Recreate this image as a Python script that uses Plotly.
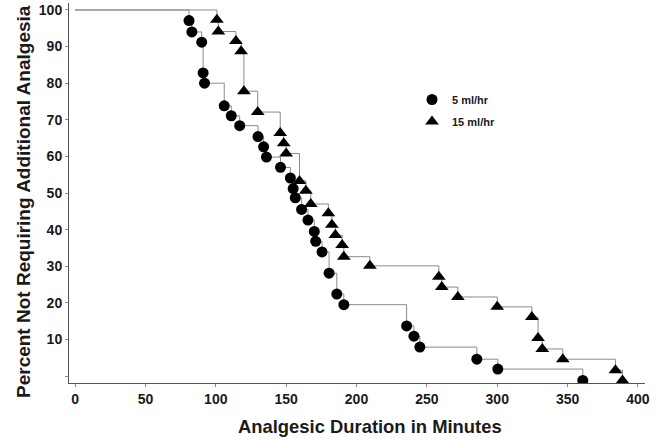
import plotly.graph_objects as go

# 5 ml/hr group (circles): time in minutes, percent not requiring additional analgesia
t5 = [81, 83, 90, 91, 92, 106, 111, 117, 130, 134, 136, 146, 153, 155, 156.5, 161,
      165.5, 170, 171, 175.5, 180.5, 186, 191, 235.6, 240.8, 245, 285.5, 300.4, 360.8]
p5 = [97.1, 94.0, 91.2, 82.8, 80.0, 73.8, 71.1, 68.4, 65.4, 62.6, 59.8, 57.0, 54.1, 51.2,
      48.7, 45.5, 42.6, 39.5, 36.8, 33.9, 28.1, 22.4, 19.5, 13.7, 10.9, 7.9, 4.6, 1.9, -1.2]

# 15 ml/hr group (triangles)
t15 = [100.8, 101.8, 114.3, 118, 120, 129.8, 145.8, 148.3, 150, 159.5, 164, 167.5,
       180, 182.5, 185, 189.8, 191, 209.5, 258.5, 260.6, 272, 300, 324.6, 329, 332,
       346.6, 384, 389]
p15 = [97.3, 94.1, 91.5, 88.7, 77.8, 72.1, 66.4, 63.6, 60.8, 53.3, 50.6, 47.0,
       44.5, 41.3, 38.5, 35.8, 32.6, 30.1, 27.1, 24.3, 21.6, 18.9, 16.1, 10.4, 7.4,
       4.6, 1.6, -1.2]

start_time = 0
start_pct = 100

x_ticks = [0, 50, 100, 150, 200, 250, 300, 350, 400]
y_ticks = [0, 10, 20, 30, 40, 50, 60, 70, 80, 90, 100]
y_ticktext = ["" if v == 0 else str(v) for v in y_ticks]

x_title = "Analgesic Duration in Minutes"
y_title = "Percent Not Requiring Additional Analgesia"

FONT = "Liberation Sans, Arial, Helvetica, sans-serif"
LINE_COLOR = "#8a8a8a"
TEXT_COLOR = "#1a1a1a"

W, H = 672, 439
ML, MR, MT, MB = 69, 27, 3, 56

fig = go.Figure()

# step lines
fig.add_trace(go.Scatter(x=[start_time] + t5, y=[start_pct] + p5, mode="lines",
                         line=dict(shape="hv", color=LINE_COLOR, width=1),
                         showlegend=False, hoverinfo="skip"))
fig.add_trace(go.Scatter(x=[start_time] + t15, y=[start_pct] + p15, mode="lines",
                         line=dict(shape="hv", color=LINE_COLOR, width=1),
                         showlegend=False, hoverinfo="skip"))

# markers
fig.add_trace(go.Scatter(x=t5, y=p5, mode="markers", name="5 ml/hr", legendgroup="g5",
                         marker=dict(symbol="circle", size=11, color="black")))
fig.add_trace(go.Scatter(x=t15, y=p15, mode="markers", name="15 ml/hr", legendgroup="g15",
                         marker=dict(symbol="triangle-up", size=12, color="black")))

pw = W - ML - MR
ph = H - MT - MB

fig.update_layout(
    width=W, height=H,
    margin=dict(l=ML, r=MR, t=MT, b=MB),
    paper_bgcolor="white", plot_bgcolor="white",
    font=dict(family=FONT, color=TEXT_COLOR, size=14),
    legend=dict(x=(412 - ML) / pw, y=1 - (85 - MT) / ph, xanchor="left", yanchor="top",
                font=dict(size=11, weight="bold", family=FONT),
                bgcolor="rgba(0,0,0,0)", itemwidth=30, tracegroupgap=3),
    annotations=[
        dict(text=x_title, xref="paper", yref="paper",
             x=(370 - ML) / pw, y=-(427 - (H - MB)) / ph, xanchor="center", yanchor="middle",
             showarrow=False, font=dict(size=18.4, weight="bold", family=FONT, color=TEXT_COLOR)),
        dict(text=y_title, xref="paper", yref="paper", textangle=-90,
             x=-(ML - 23) / pw, y=1 - (202 - MT) / ph, xanchor="center", yanchor="middle",
             showarrow=False, font=dict(size=19, weight="bold", family=FONT, color=TEXT_COLOR)),
    ],
)

fig.update_xaxes(range=[-4.3, 405], tickvals=x_ticks, showgrid=False, zeroline=False,
                 showline=True, linecolor="#555", linewidth=1, automargin=False,
                 ticks="outside", ticklen=3, tickcolor="#888",
                 tickfont=dict(size=14, weight="bold", family=FONT))
fig.update_yaxes(range=[-1.9, 101.9], tickvals=y_ticks, ticktext=y_ticktext,
                 showgrid=False, zeroline=False, automargin=False,
                 showline=True, linecolor="#555", linewidth=1,
                 ticks="outside", ticklen=3, tickcolor="#888",
                 tickfont=dict(size=14, weight="bold", family=FONT))

fig.write_html("out.html", config={"displayModeBar": False},
               post_script="document.body.style.margin='0';document.body.style.overflow='hidden';")
